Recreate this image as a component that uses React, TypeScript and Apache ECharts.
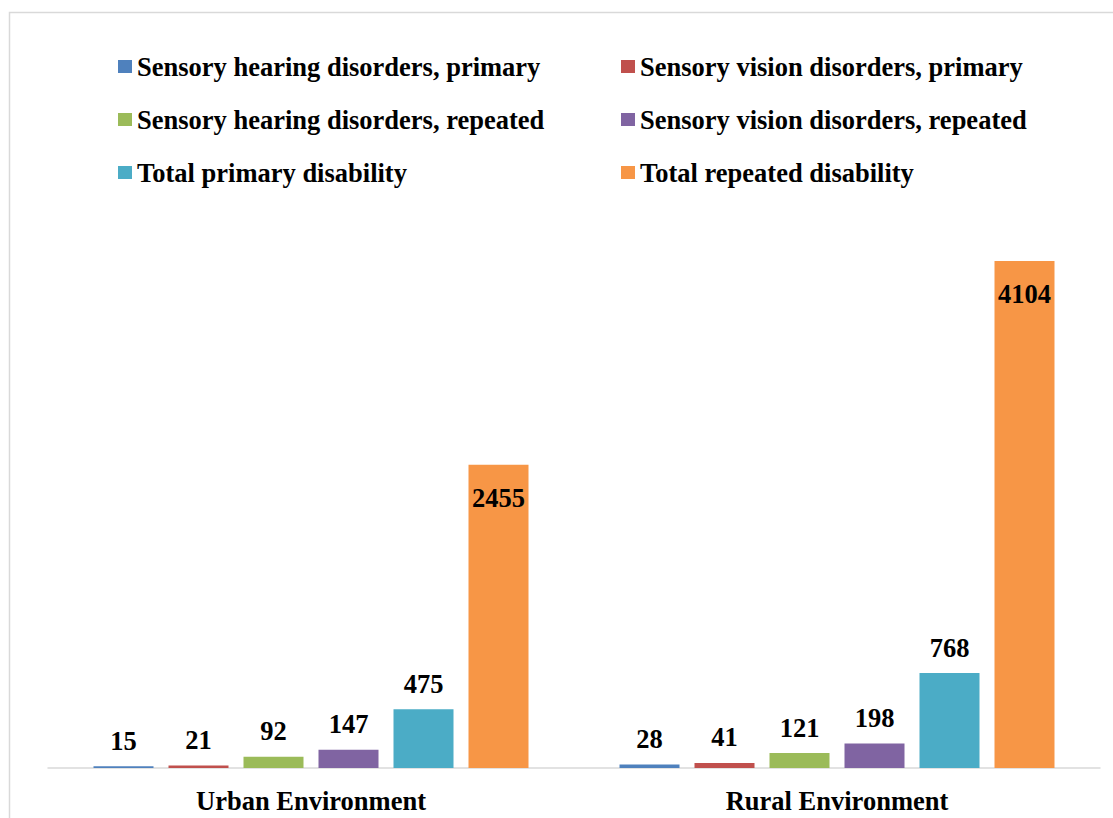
import React, { useEffect, useRef } from "react";
import * as echarts from "echarts";

const categories = ["Urban Environment", "Rural Environment"];
const seriesNames = [
  "Sensory hearing disorders, primary",
  "Sensory vision disorders, primary",
  "Sensory hearing disorders, repeated",
  "Sensory vision disorders, repeated",
  "Total primary disability",
  "Total repeated disability",
];
const hearingPrimary = [15, 28];
const visionPrimary = [21, 41];
const hearingRepeated = [92, 121];
const visionRepeated = [147, 198];
const totalPrimary = [475, 768];
const totalRepeated = [2455, 4104];

const seriesValues = [
  hearingPrimary,
  visionPrimary,
  hearingRepeated,
  visionRepeated,
  totalPrimary,
  totalRepeated,
];
const colors = ["#4F81BD", "#C0504D", "#9BBB59", "#8064A2", "#4BACC6", "#F79646"];

const FONT = "Liberation Serif";
const FS = 26.5;

export default function App() {
  const ref = useRef<HTMLDivElement>(null);

  useEffect(() => {
    if (!ref.current) return;
    const chart = echarts.init(ref.current, null, { renderer: "svg" });
    const legendText = {
      fontFamily: FONT,
      fontWeight: "bold" as const,
      fontSize: FS,
      color: "#000",
      lineHeight: 26,
    };
    const legendBase = {
      orient: "vertical" as const,
      top: 53,
      padding: 0,
      itemWidth: 14,
      itemHeight: 13,
      itemGap: 26,
      icon: "rect",
      textStyle: legendText,
      selectedMode: false,
    };
    chart.setOption({
      animation: false,
      backgroundColor: "#fff",
      color: colors,
      textStyle: { fontFamily: FONT },
      graphic: [
        {
          type: "rect",
          shape: { x: 9.5, y: 12.5, width: 1130, height: 830 },
          style: { fill: "none", stroke: "#d9d9d9", lineWidth: 1.5 },
          silent: true,
        },
      ],
      legend: [
        {
          ...legendBase,
          left: 118,
          data: [seriesNames[0], seriesNames[2], seriesNames[4]],
        },
        {
          ...legendBase,
          left: 621,
          data: [seriesNames[1], seriesNames[3], seriesNames[5]],
        },
      ],
      grid: { left: 48, right: 13, top: 212, bottom: 50, containLabel: false },
      xAxis: {
        type: "category",
        data: categories,
        axisLine: { lineStyle: { color: "#d9d9d9", width: 1.5 } },
        axisTick: { show: false },
        axisLabel: {
          fontFamily: FONT,
          fontWeight: "bold",
          fontSize: FS,
          color: "#000",
          margin: 19,
        },
      },
      yAxis: {
        type: "value",
        min: 0,
        max: 4500,
        show: false,
        splitLine: { show: false },
      },
      series: seriesNames.map((name, i) => ({
        name,
        type: "bar",
        data: seriesValues[i],
        barWidth: 60,
        barGap: "25%",
        itemStyle: { color: colors[i] },
        label: {
          show: true,
          position: i === 5 ? "insideTop" : "top",
          distance: i === 5 ? 20 : 12,
          fontFamily: FONT,
          fontWeight: "bold",
          fontSize: FS,
          color: "#000",
        },
      })),
    });
    return () => chart.dispose();
  }, []);

  return (
    <div
      ref={ref}
      style={{ position: "fixed", left: 0, top: 0, width: 1113, height: 818 }}
    />
  );
}
